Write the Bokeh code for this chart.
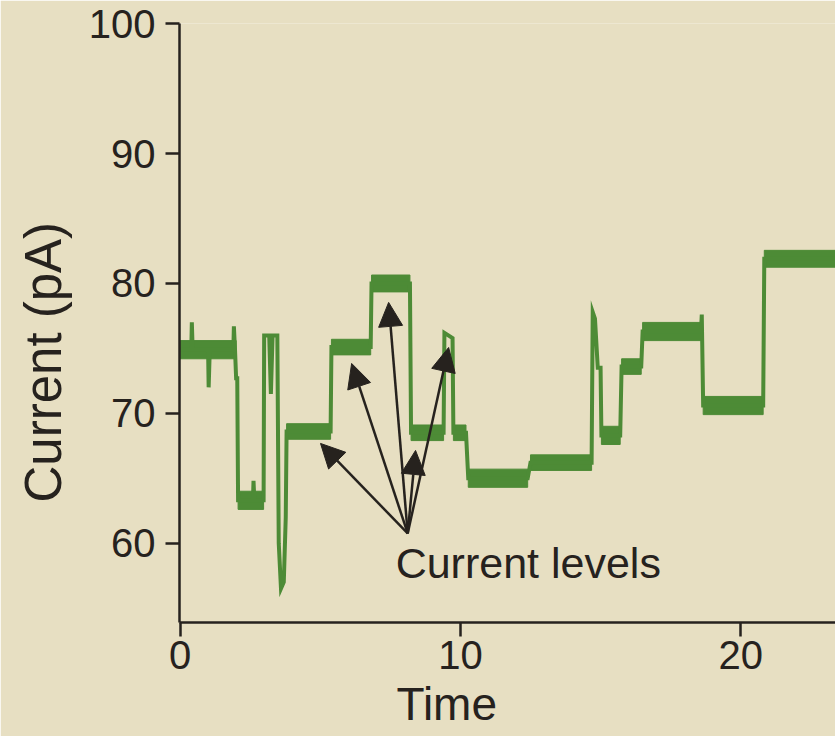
from bokeh.plotting import figure
from bokeh.models import Range1d, Label, Arrow, NormalHead, FixedTicker, ColumnDataSource, Title
from bokeh.embed import file_html
from bokeh.resources import INLINE

# ---- data ----
trace_t = [0.0, 0.40, 0.42, 0.45, 1.00, 1.02, 1.06, 1.90, 1.92, 1.96, 2.00, 2.04, 2.07,
           2.60, 2.62, 2.65, 2.98, 3.00, 3.18, 3.24, 3.30, 3.47, 3.52, 3.60, 3.70, 3.77,
           3.80, 5.37, 5.40, 6.80, 6.83, 8.20, 8.24, 9.40, 9.43, 9.72, 9.75, 10.20, 10.28,
           12.40, 12.50, 14.68, 14.72, 14.80, 14.90, 15.00, 15.03, 15.70, 15.75, 16.45,
           16.50, 18.58, 18.61, 18.66, 20.80, 20.84, 23.38]
trace_i = [74.9, 74.9, 77.0, 74.9, 74.9, 72.0, 74.9, 74.9, 76.7, 74.9, 72.7, 72.7, 63.3,
           63.3, 64.8, 63.3, 63.3, 76.0, 76.0, 71.5, 76.0, 76.0, 60.0, 56.5, 57.0, 62.0,
           68.6, 68.6, 75.1, 75.1, 80.0, 80.0, 68.5, 68.5, 76.2, 75.8, 68.5, 68.5, 65.0,
           65.0, 66.2, 66.2, 77.8, 77.3, 73.5, 73.5, 68.3, 68.3, 73.6, 73.6,
           76.3, 76.3, 77.6, 70.6, 70.6, 81.9, 81.9]

level_start = [0.0, 2.07, 3.80, 5.40, 6.83, 8.24, 9.75, 10.28, 12.50, 15.03, 15.75, 16.50, 18.66, 20.84]
level_end = [2.00, 2.98, 5.37, 6.80, 8.20, 9.40, 10.20, 12.40, 14.68, 15.70, 16.45, 18.58, 20.80, 23.38]
level_value = [74.9, 63.3, 68.6, 75.1, 80.0, 68.5, 68.5, 65.0, 66.2, 68.3, 73.6, 76.3, 70.6, 81.9]
level_noise = [0.7, 0.7, 0.6, 0.6, 0.65, 0.6, 0.6, 0.7, 0.6, 0.7, 0.6, 0.7, 0.7, 0.65]

x_ticks = [0, 10, 20]
y_ticks = [60, 70, 80, 90, 100]

arrow_origin_t = 8.12
arrow_origin_i = 60.75
arrow_tip_t = [5.01, 6.12, 7.44, 8.40, 9.58]
arrow_tip_i = [67.68, 73.84, 78.54, 67.14, 75.07]

annotation_text = "Current levels"
x_label = "Time"
y_label = "Current (pA)"

# ---- styling ----
BG = "#e7dfc2"
GREEN = "#4d8b36"
INK = "#26221e"
FONT = "Liberation Sans"

p = figure(width=835, height=736, output_backend="svg", toolbar_location=None,
           x_range=Range1d(-0.02, 23.38), y_range=Range1d(53.89, 100.02),
           min_border_left=179, min_border_right=0, min_border_top=23, min_border_bottom=114)
p.background_fill_color = BG
p.border_fill_color = BG
p.outline_line_color = None
p.grid.visible = False

band_src = ColumnDataSource(dict(
    left=level_start, right=level_end,
    bottom=[v - n for v, n in zip(level_value, level_noise)],
    top=[v + n for v, n in zip(level_value, level_noise)]))
p.quad(left="left", right="right", bottom="bottom", top="top", source=band_src,
       fill_color=GREEN, line_color=GREEN, line_width=1)
p.line(trace_t, trace_i, line_color=GREEN, line_width=4, line_join="miter")

arrow_src = ColumnDataSource(dict(
    xs=[arrow_origin_t] * len(arrow_tip_t), ys=[arrow_origin_i] * len(arrow_tip_i),
    xe=arrow_tip_t, ye=arrow_tip_i))
p.add_layout(Arrow(x_start="xs", y_start="ys", x_end="xe", y_end="ye", source=arrow_src,
                   line_color=INK, line_width=2.5,
                   end=NormalHead(size=24, fill_color=INK, line_color=INK, line_width=1)))

for ax in (p.xaxis[0], p.yaxis[0]):
    ax.axis_line_color = INK
    ax.axis_line_width = 2.5
    ax.major_tick_line_color = INK
    ax.major_tick_line_width = 2.5
    ax.major_tick_out = 14
    ax.major_tick_in = 0
    ax.minor_tick_line_color = None
    ax.major_label_text_font = FONT
    ax.major_label_text_font_size = "40px"
    ax.major_label_text_color = INK
p.xaxis.ticker = FixedTicker(ticks=x_ticks)
p.yaxis.ticker = FixedTicker(ticks=y_ticks)
p.xaxis.major_label_standoff = 4
p.yaxis.major_label_standoff = 10

p.add_layout(Label(x=7.69, y=58.5, text=annotation_text, text_font=FONT,
                   text_font_size="43px", text_color=INK, text_align="left",
                   text_baseline="alphabetic"))

p.add_layout(Title(text=x_label, align="left", offset=217, standoff=9,
                   vertical_align="bottom", text_font=FONT, text_font_size="46px",
                   text_font_style="normal", text_color=INK), "below")
p.add_layout(Title(text=y_label, align="left", offset=120, standoff=24,
                   vertical_align="top", text_font=FONT, text_font_size="51px",
                   text_font_style="normal", text_color=INK), "left")

open("out.html", "w").write(file_html(p, INLINE))
